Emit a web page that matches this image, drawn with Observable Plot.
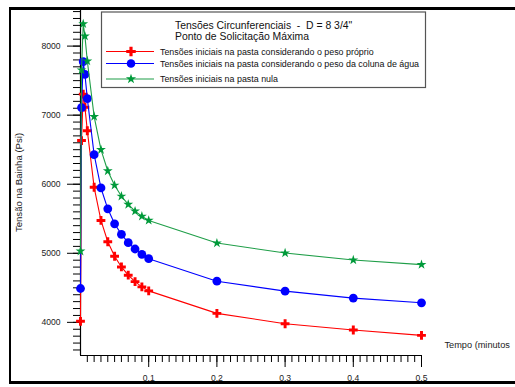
<!DOCTYPE html>
<html>
<head>
<meta charset="utf-8">
<script src="https://cdn.jsdelivr.net/npm/d3@7"></script>
<script src="https://cdn.jsdelivr.net/npm/@observablehq/plot@0.6"></script>
<style>
  html, body { margin: 0; padding: 0; background: #fff; }
  #wrap { position: relative; width: 515px; height: 387px; overflow: hidden; font-family: "Liberation Sans", Arial, sans-serif; }
  #frame { position: absolute; left: 9px; top: 7px; width: 540px; height: 377px; box-sizing: border-box;
           border-top: 3px solid #000; border-bottom: 3px solid #000; border-left: 2px solid #000; pointer-events: none; }
  #legend { position: absolute; left: 0; top: 0; pointer-events: none; }
</style>
</head>
<body>
<div id="wrap"><div id="frame"></div></div>
<script>
// ---- data ----
const time = [0, 0.0015, 0.004, 0.0065, 0.01, 0.02, 0.03, 0.04, 0.05, 0.06, 0.07, 0.08, 0.09, 0.1, 0.2, 0.3, 0.4, 0.5];
const pesoProprio = [4015, 6632, 7305, 7115, 6774, 5956, 5476, 5167, 4957, 4802, 4683, 4590, 4514, 4456, 4130, 3980, 3889, 3811];
const colunaAgua  = [4490, 7110, 7774, 7590, 7240, 6428, 5946, 5644, 5427, 5274, 5153, 5062, 4985, 4922, 4596, 4452, 4351, 4283];
const pastaNula   = [5030, 7654, 8322, 8144, 7784, 6980, 6500, 6192, 5985, 5826, 5707, 5610, 5536, 5476, 5148, 5004, 4903, 4836];

const seriesNames = [
  "Tensões iniciais na pasta considerando o peso próprio",
  "Tensões iniciais na pasta considerando o peso da coluna de água",
  "Tensões iniciais na pasta nula"
];
const titleLines = ["Tensões Circunferenciais  -  D = 8 3/4\"", "Ponto de Solicitação Máxima"];
const xTickLabels = [0.1, 0.2, 0.3, 0.4, 0.5];
const yTickLabels = [4000, 5000, 6000, 7000, 8000];
const xTitle = "Tempo (minutos";
const yTitle = "Tensão na Bainha (Psi)";

// ---- build table ----
const seriesValues = [pesoProprio, colunaAgua, pastaNula];
const lineColors = ["#ff0000", "#0000ff", "#1f9e48"];
const markColors = ["#ff0000", "#0000ff", "#009a3a"];
const symbols = ["cross", "circle", "star"];
const radii = [3.7, 4.4, 3.1];
const rows = [];
seriesValues.forEach((vals, s) => vals.forEach((v, i) => rows.push({s, t: time[i], v})));

const font = "Liberation Sans, Arial, sans-serif";

const marks = [
  Plot.axisY({ticks: d3.range(3600, 8501, 100), tickSize: 7, tickFormat: () => "", label: null, stroke: "#000"}),
  Plot.axisY({ticks: yTickLabels, tickSize: 13, tickPadding: 7, tickFormat: d => String(d), label: null, fontSize: 8.6, fill: "#222", stroke: "#000"}),
  Plot.axisX({ticks: d3.range(1, 50).map(i => i / 100), tickSize: 7, tickFormat: () => "", label: null, stroke: "#000"}),
  Plot.axisX({ticks: xTickLabels, tickSize: 12, tickPadding: 7, tickFormat: d => String(d), label: null, fontSize: 8.6, fill: "#222", stroke: "#000"}),
  Plot.ruleX([0], {stroke: "#000", strokeWidth: 1.2}),
  Plot.ruleY([3520], {stroke: "#000", strokeWidth: 1.2}),
  Plot.text([yTitle], {frameAnchor: "left", dx: -62, rotate: -90, fontSize: 9.6, fill: "#222", textAnchor: "middle"}),
  Plot.text([xTitle], {frameAnchor: "bottom-right", dx: 23, dy: -8, fontSize: 9.2, fill: "#222", textAnchor: "start"})
];
seriesValues.forEach((vals, s) => {
  const d = rows.filter(r => r.s === s);
  marks.push(Plot.line(d, {x: "t", y: "v", stroke: lineColors[s], strokeWidth: 1.1}));
  marks.push(Plot.dot(d, {x: "t", y: "v", symbol: symbols[s], fill: markColors[s], stroke: "none", r: radii[s]}));
});

const chart = Plot.plot({
  width: 515, height: 387,
  marginLeft: 80, marginRight: 94, marginTop: 9, marginBottom: 32,
  x: {domain: [0, 0.5]},
  y: {domain: [3520, 8530]},
  style: {background: "transparent", fontFamily: font, overflow: "visible"},
  marks
});
const wrap = document.getElementById("wrap");
wrap.insertBefore(chart, wrap.firstChild);

// ---- legend (overlay svg) ----
const lg = d3.select(wrap).append("svg").attr("id", "legend").attr("width", 515).attr("height", 387)
  .style("font-family", font);
lg.append("rect").attr("x", 101.5).attr("y", 12).attr("width", 324).attr("height", 75.5)
  .attr("fill", "#fff").attr("stroke", "#555").attr("stroke-width", 1.2);
titleLines.forEach((t, i) => {
  lg.append("text").attr("x", 175).attr("y", [25, 36.5][i]).attr("dy", "0.35em")
    .attr("font-size", 10.4).attr("fill", "#111").style("white-space", "pre").text(t);
});
const rowY = [51.5, 63.5, 79];
seriesNames.forEach((name, s) => {
  const y = rowY[s];
  lg.append("line").attr("x1", 106).attr("x2", 154).attr("y1", y).attr("y2", y)
    .attr("stroke", lineColors[s]).attr("stroke-width", 1.1);
  const sym = {cross: d3.symbolCross, circle: d3.symbolCircle, star: d3.symbolStar}[symbols[s]];
  lg.append("path").attr("transform", `translate(131,${y})`)
    .attr("d", d3.symbol(sym, Math.PI * [4, 4.3, 3.2][s] ** 2)())
    .attr("fill", markColors[s]);
  lg.append("text").attr("x", 160).attr("y", y).attr("dy", "0.35em")
    .attr("font-size", 8.9).attr("fill", "#111").text(name);
});
</script>
</body>
</html>
